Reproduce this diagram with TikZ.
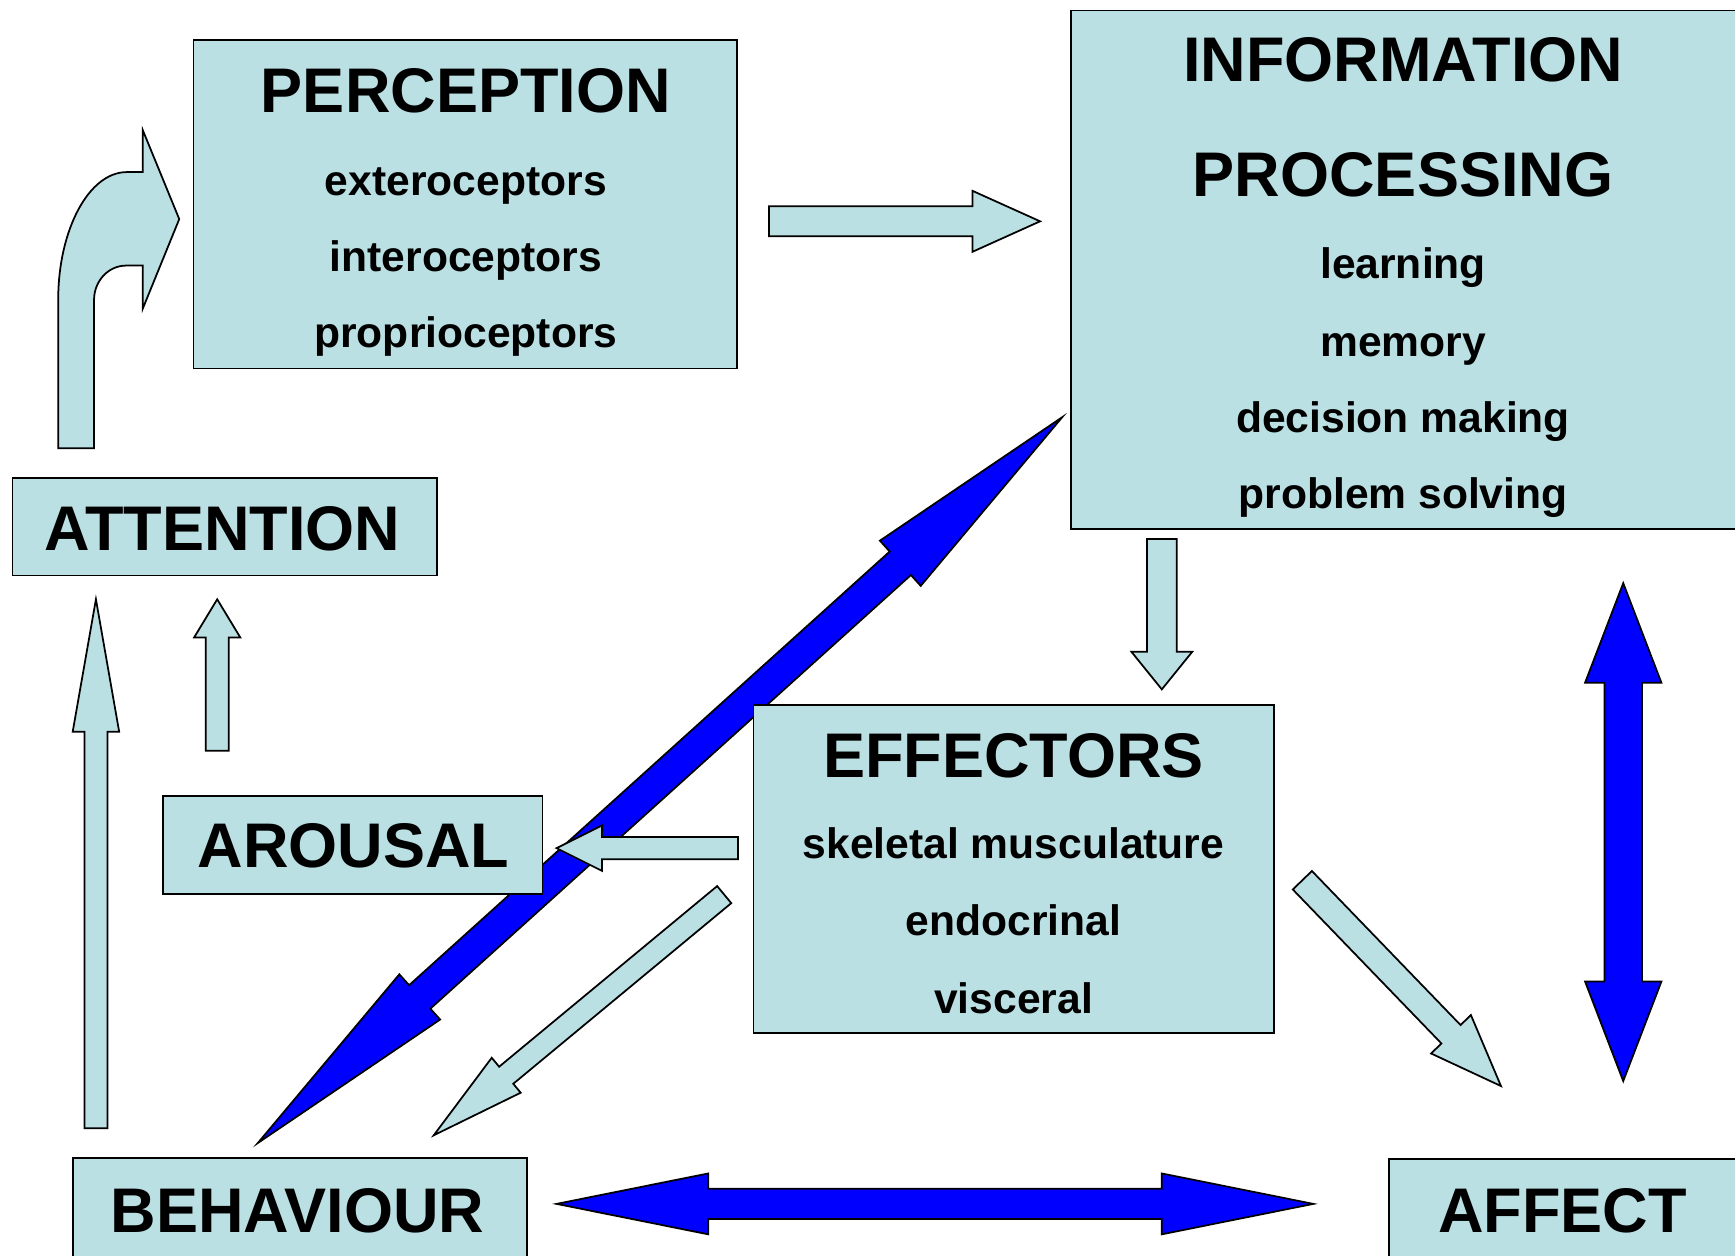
\documentclass[tikz,border=0pt]{standalone}
\usepackage{fontspec}
\setmainfont{Liberation Sans}
\usetikzlibrary{calc}

\definecolor{paleblue}{RGB}{186,224,227}

% block arrow, one head: [style]{from}{to}{half shaft}{half head}{head length}
\newcommand{\blockarrow}[6][]{%
  \coordinate (ba-c) at ($(#3)!#6!(#2)$);
  \draw[#1] ($(#2)!#4!90:(#3)$) -- ($(ba-c)!#4!-90:(#2)$) -- ($(ba-c)!#5!-90:(#2)$) -- (#3)
    -- ($(ba-c)!#5!90:(#2)$) -- ($(ba-c)!#4!90:(#2)$) -- ($(#2)!#4!-90:(#3)$) -- cycle;
}
% block arrow, two heads
\newcommand{\dblarrow}[6][]{%
  \coordinate (da-a) at ($(#2)!#6!(#3)$);
  \coordinate (da-b) at ($(#3)!#6!(#2)$);
  \draw[#1] (#2) -- ($(da-a)!#5!90:(#3)$) -- ($(da-a)!#4!90:(#3)$) -- ($(da-b)!#4!-90:(#2)$)
    -- ($(da-b)!#5!-90:(#2)$) -- (#3) -- ($(da-b)!#5!90:(#2)$) -- ($(da-b)!#4!90:(#2)$)
    -- ($(da-a)!#4!-90:(#3)$) -- ($(da-a)!#5!-90:(#3)$) -- cycle;
}

\begin{document}
\begin{tikzpicture}[x=0.01cm, y=-0.01cm, line width=0.45pt]
	\tikzstyle{box}=[draw, fill=paleblue, rectangle, inner sep=0pt]
	\tikzstyle{boxtitle}=[font=\fontsize{16.2}{19}\selectfont\bfseries, anchor=base, inner sep=0pt]
	\tikzstyle{boxline}=[font=\fontsize{10.95}{13}\selectfont\bfseries, anchor=base, inner sep=0pt]
	\tikzstyle{pale}=[draw, fill=paleblue, line join=miter]
	\tikzstyle{strong}=[draw, fill=blue, line join=miter]

	\useasboundingbox (0,0) rectangle (1568,1135);

	% arrow ends
	\coordinate (behUp) at (233,1033);
	\coordinate (infoDown) at (960,377);
	\coordinate (behRight) at (503,1088);
	\coordinate (affLeft) at (1187,1088);
	\coordinate (infoBelow) at (1467,527);
	\coordinate (affAbove) at (1467,977);

	% blue two-way arrows
	\dblarrow[strong]{behUp}{infoDown}{0.143cm}{0.275cm}{1.97cm}
	\dblarrow[strong]{behRight}{affLeft}{0.137cm}{0.275cm}{1.37cm}
	\dblarrow[strong]{infoBelow}{affAbove}{0.17cm}{0.345cm}{0.9cm}

	% boxes
	\node[box, minimum width=4.91cm, minimum height=2.97cm] (perc) at (420.5,184.5) {};
	\node[box, minimum width=6.02cm, minimum height=4.685cm] (info) at (1269,243.75) {};
	\node[box, minimum width=4.705cm, minimum height=2.966cm] (eff) at (916.25,785.3) {};
	\node[box, minimum width=3.83cm, minimum height=0.877cm] (att) at (203,476.15) {};
	\node[box, minimum width=3.425cm, minimum height=0.889cm] (arou) at (318.85,763.55) {};
	\node[box, minimum width=4.097cm, minimum height=1.102cm] (beh) at (271.15,1101.9) {};
	\node[box, minimum width=3.144cm, minimum height=1.095cm] (aff) at (1412.8,1102.25) {};

	\node[boxtitle] (percT) at (421,101.8) {PERCEPTION};
	\node[boxline] (percA) at (421,176.3) {exteroceptors};
	\node[boxline] (percB) at (421,245) {interoceptors};
	\node[boxline] (percC) at (421,314) {proprioceptors};

	\node[boxtitle] (infoT1) at (1268,73.8) {INFORMATION};
	\node[boxtitle] (infoT2) at (1268,177.8) {PROCESSING};
	\node[boxline] (infoA) at (1268,251.5) {learning};
	\node[boxline] (infoB) at (1268,322.4) {memory};
	\node[boxline] (infoC) at (1268,391) {decision making};
	\node[boxline] (infoD) at (1268,459.4) {problem solving};

	\node[boxtitle] (effT) at (916,702.8) {EFFECTORS};
	\node[boxline] (effA) at (916,775.7) {skeletal musculature};
	\node[boxline] (effB) at (916,845) {endocrinal};
	\node[boxline] (effC) at (916,915.8) {visceral};

	\node[boxtitle] (attT) at (201,497.5) {ATTENTION};
	\node[boxtitle] (arouT) at (319.4,784) {AROUSAL};
	\node[boxtitle] (behT) at (269,1114) {BEHAVIOUR};
	\node[boxtitle] (affT) at (1412,1114) {AFFECT};

	% pale one-way arrows
	\coordinate (percOut) at (695,200);
	\coordinate (infoIn) at (940,200);
	\coordinate (infoOut) at (1050,487);
	\coordinate (effIn) at (1050,623);
	\coordinate (effOutL) at (667,766.5);
	\coordinate (arouIn) at (503,766.5);
	\coordinate (arouOut) at (196.3,678.4);
	\coordinate (attInA) at (196.3,541.6);
	\coordinate (behOut) at (86.7,1019.7);
	\coordinate (attInB) at (86.7,541.6);
	\coordinate (effOutB) at (654.5,808.5);
	\coordinate (behIn) at (392,1026);
	\coordinate (effOutR) at (1177,795.5);
	\coordinate (affIn) at (1356.5,981.5);

	\blockarrow[pale]{percOut}{infoIn}{0.135cm}{0.275cm}{0.61cm}
	\blockarrow[pale]{infoOut}{effIn}{0.135cm}{0.275cm}{0.34cm}
	\blockarrow[pale]{effOutL}{arouIn}{0.10cm}{0.205cm}{0.41cm}
	\blockarrow[pale]{arouOut}{attInA}{0.104cm}{0.208cm}{0.344cm}
	\blockarrow[pale]{behOut}{attInB}{0.104cm}{0.21cm}{1.197cm}
	\blockarrow[pale]{effOutB}{behIn}{0.10cm}{0.205cm}{0.85cm}
	\blockarrow[pale]{effOutR}{affIn}{0.12cm}{0.25cm}{0.65cm}

	% bent arrow into perception
	\draw[pale] (52.6,405) -- (52.6,271) .. controls (52.6,207.5) and (80.4,155.5) .. (114.6,155.5)
		-- (129,155.5) -- (129,117.5) -- (162,198) -- (129,279) -- (129,240) -- (114,240)
		.. controls (98,240) and (85,253.9) .. (85,271) -- (85,405) -- cycle;
\end{tikzpicture}
\end{document}
